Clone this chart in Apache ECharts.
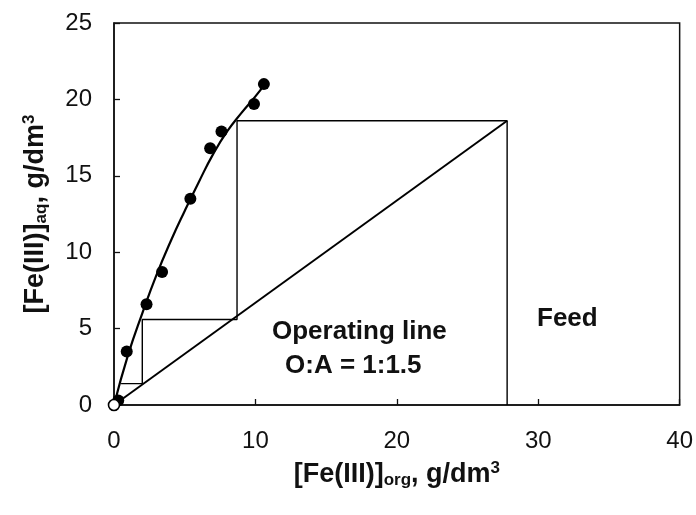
<!DOCTYPE html>
<html>
<head>
<meta charset="utf-8">
<script src="https://cdn.jsdelivr.net/npm/echarts@6/dist/echarts.min.js"></script>
<style>
  html, body { margin: 0; padding: 0; background: #ffffff; }
  #chart { width: 696px; height: 515px; }
</style>
</head>
<body>
<div id="chart"></div>
<script>
// Axis ticks
const xTicks = [0, 10, 20, 30, 40];
const yTicks = [0, 5, 10, 15, 20, 25];

// Extraction equilibrium data: organic vs aqueous Fe(III), g/dm3
const pointsOrg = [0.3, 0.9, 2.3, 3.4, 5.4, 6.8, 7.6, 9.9, 10.6];
const pointsAq  = [0.3, 3.5, 6.6, 8.7, 13.5, 16.8, 17.9, 19.7, 21.0];

// Smoothed equilibrium isotherm
const curveOrg = [0, 1, 2, 3, 4, 5, 6, 7, 8, 9, 10, 10.6];
const curveAq  = [0, 3.3, 6.0, 8.5, 10.7, 12.7, 14.6, 16.4, 17.9, 19.1, 20.2, 20.9];

// Operating line, O:A = 1:1.5, ending at the feed
const operOrg = [0, 27.8];
const operAq  = [0, 18.6];

// Feed line and McCabe-Thiele stages
const stageOrg = [27.8, 27.8, 8.7, 8.7, 2.0, 2.0, 0.5];
const stageAq  = [0, 18.6, 18.6, 5.6, 5.6, 1.4, 1.4];

// Origin marker
const originOrg = [0];
const originAq  = [0];

const zip = (a, b) => a.map((v, i) => [v, b[i]]);

const FONT = '"Liberation Sans", Arial, sans-serif';
const INK = '#111111';
const MARK = '#000000';

const titleStyle = {
  color: INK, fontFamily: FONT, fontSize: 27, fontWeight: 'bold',
  rich: {
    sub: { fontFamily: FONT, fontSize: 17, fontWeight: 'bold', color: INK, verticalAlign: 'bottom', padding: [10, 0, 0, 0] },
    sup: { fontFamily: FONT, fontSize: 17, fontWeight: 'bold', color: INK, verticalAlign: 'top', padding: [0, 0, 12, 0] }
  }
};

const chart = echarts.init(document.getElementById('chart'), null, { renderer: 'canvas' });

chart.setOption({
  backgroundColor: '#ffffff',
  animation: false,
  grid: {
    left: 114, right: 15, top: 23, bottom: 110,
    show: true, borderColor: INK, borderWidth: 1.5, backgroundColor: 'transparent'
  },
  xAxis: {
    type: 'value',
    min: xTicks[0], max: xTicks[xTicks.length - 1], interval: xTicks[1] - xTicks[0],
    axisLine: { show: true, lineStyle: { color: INK, width: 1.5 } },
    axisTick: { show: true, inside: true, length: 6, lineStyle: { color: INK, width: 1.3 } },
    splitLine: { show: false },
    axisLabel: { color: INK, fontFamily: FONT, fontSize: 24, margin: 24 },
    name: '[Fe(III)]{sub|org}, g/dm{sup|3}',
    nameLocation: 'middle',
    nameGap: 55,
    nameTextStyle: titleStyle
  },
  yAxis: {
    type: 'value',
    min: yTicks[0], max: yTicks[yTicks.length - 1], interval: yTicks[1] - yTicks[0],
    axisLine: { show: true, lineStyle: { color: INK, width: 1.5 } },
    axisTick: { show: true, inside: true, length: 6, lineStyle: { color: INK, width: 1.3 } },
    splitLine: { show: false },
    axisLabel: { color: INK, fontFamily: FONT, fontSize: 24, margin: 22 },
    name: '[Fe(III)]{sub|aq}, g/dm{sup|3}',
    nameLocation: 'middle',
    nameRotate: 90,
    nameGap: 64,
    nameTextStyle: titleStyle
  },
  graphic: [
    { type: 'text', left: 272, top: 319, style: { text: 'Operating line', fill: INK, font: 'bold 26px ' + FONT } },
    { type: 'text', left: 285, top: 353, style: { text: 'O:A = 1:1.5', fill: INK, font: 'bold 26px ' + FONT } },
    { type: 'text', left: 537, top: 306, style: { text: 'Feed', fill: INK, font: 'bold 26px ' + FONT } }
  ],
  series: [
    {
      name: 'isotherm', type: 'line', data: zip(curveOrg, curveAq),
      smooth: 0.5, showSymbol: false, symbol: 'none',
      lineStyle: { color: MARK, width: 2.2 }, z: 3
    },
    {
      name: 'operating', type: 'line', data: zip(operOrg, operAq),
      showSymbol: false, symbol: 'none',
      lineStyle: { color: MARK, width: 2 }, z: 2
    },
    {
      name: 'stages', type: 'line', data: zip(stageOrg, stageAq),
      showSymbol: false, symbol: 'none',
      lineStyle: { color: MARK, width: 1.4 }, z: 2
    },
    {
      name: 'points', type: 'scatter', data: zip(pointsOrg, pointsAq),
      symbol: 'circle', symbolSize: 12, clip: false,
      itemStyle: { color: MARK, opacity: 1 }, z: 4
    },
    {
      name: 'origin', type: 'scatter', data: zip(originOrg, originAq),
      symbol: 'circle', symbolSize: 11, clip: false,
      itemStyle: { color: '#ffffff', borderColor: MARK, borderWidth: 1.6, opacity: 1 }, z: 5
    }
  ]
});
</script>
</body>
</html>
